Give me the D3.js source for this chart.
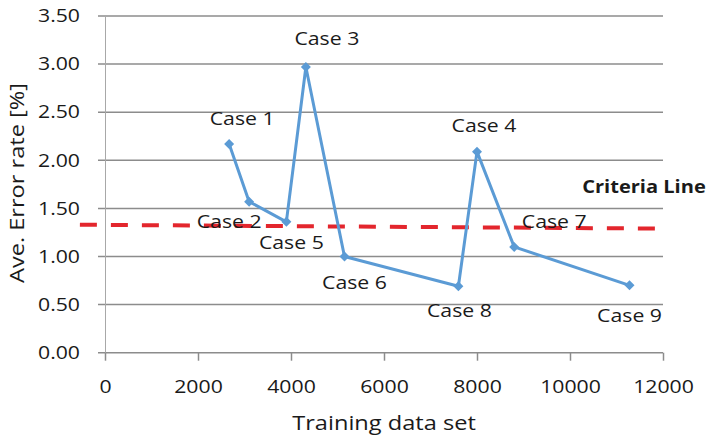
<!DOCTYPE html>
<html>
<head>
<meta charset="utf-8">
<script src="https://cdn.jsdelivr.net/npm/d3@7"></script>
<style>
  body { margin: 0; background: #fff; }
  text { font-family: "Open Sans", sans-serif; fill: #1a1a1a; }
</style>
</head>
<body>
<div id="chart"></div>
<script>
// data
var caseNames = ['Case 1', 'Case 2', 'Case 5', 'Case 3', 'Case 6', 'Case 8', 'Case 4', 'Case 7', 'Case 9'];
var trainingSize = [2670, 3100, 3900, 4320, 5150, 7600, 8000, 8800, 11280];
var errorRate = [2.17, 1.57, 1.36, 2.97, 1.00, 0.69, 2.09, 1.10, 0.70];

var xTicks = [0, 2000, 4000, 6000, 8000, 10000, 12000];
var yTicks = [0, 0.5, 1, 1.5, 2, 2.5, 3, 3.5];

var criteriaX = [-540, 12000];
var criteriaY = [1.33, 1.29];

// where each case label sits relative to its point (px)
var labelOffsets = [[13, -25], [-20, 20], [5, 21], [21, -28], [10, 26], [1, 24], [7, -26], [40, -25], [0, 30]];

var W = 710, H = 435;
var STRETCH = 1.18; // the original text is a bit wide

var svg = d3.select('#chart').append('svg').attr('width', W).attr('height', H);

var x = d3.scaleLinear().domain([0, 12000]).range([105, 663]);
var y = d3.scaleLinear().domain([0, 3.5]).range([352.7, 16]);

// gridlines, poking out a little left of the axis
svg.append('g').selectAll('line').data(yTicks).join('line')
    .attr('x1', x(0) - 7).attr('x2', x(12000))
    .attr('y1', function(d) { return y(d); }).attr('y2', function(d) { return y(d); })
    .attr('stroke', '#8c8c8c').attr('stroke-width', 1.5);

// y axis
var yAxis = svg.append('g').attr('transform', 'translate(' + x(0) + ',0)')
    .call(d3.axisLeft(y).tickValues(yTicks).tickFormat(d3.format('.2f')).tickSize(0).tickPadding(25));
yAxis.select('.domain').attr('stroke', '#a8a8a8').attr('stroke-width', 1);
yAxis.selectAll('text').attr('font-size', 18).attr('font-family', null).style('fill', '#1a1a1a')
    .attr('transform', 'scale(' + STRETCH + ',1)')
    .attr('x', -25 / STRETCH);

// x axis
var xAxis = svg.append('g').attr('transform', 'translate(0,' + y(0) + ')')
    .call(d3.axisBottom(x).tickValues(xTicks).tickFormat(d3.format('d')).tickSizeInner(8).tickSizeOuter(0).tickPadding(20));
xAxis.select('.domain').remove();
xAxis.selectAll('line').attr('stroke', '#8c8c8c').attr('stroke-width', 1.5);
xAxis.selectAll('text').attr('font-size', 18).attr('font-family', null).style('fill', '#1a1a1a')
    .attr('transform', 'scale(' + STRETCH + ',1)');

// axis titles
drawText('Training data set', 384, 423, 20, 'normal', 0);
drawText('Ave. Error rate [%]', 17, 183, 20, 'normal', -90);

// criteria line
svg.append('line')
    .attr('x1', x(criteriaX[0])).attr('y1', y(criteriaY[0]))
    .attr('x2', x(criteriaX[1])).attr('y2', y(criteriaY[1]))
    .attr('stroke', '#e3262d').attr('stroke-width', 4)
    .attr('stroke-dasharray', '17,14');
drawText('Criteria Line', 644, 187, 17, 'bold', 0);

// series
var pts = trainingSize.map(function(d, i) { return [d, errorRate[i]]; });
var line = d3.line().x(function(d) { return x(d[0]); }).y(function(d) { return y(d[1]); });

svg.append('path').datum(pts)
    .attr('d', line)
    .attr('fill', 'none')
    .attr('stroke', '#5b9bd5')
    .attr('stroke-width', 3)
    .attr('stroke-linejoin', 'round');

// diamond markers (rotated squares)
svg.append('g').selectAll('path').data(pts).join('path')
    .attr('d', d3.symbol().type(d3.symbolSquare).size(50))
    .attr('transform', function(d) { return 'translate(' + x(d[0]) + ',' + y(d[1]) + ') rotate(45)'; })
    .attr('fill', '#5b9bd5');

// case labels
pts.forEach(function(d, i) {
    drawText(caseNames[i], x(d[0]) + labelOffsets[i][0], y(d[1]) + labelOffsets[i][1], 18, 'normal', 0);
});

function drawText(txt, cx, cy, size, weight, rot) {
    svg.append('text')
        .attr('transform', 'translate(' + cx + ',' + cy + ') rotate(' + rot + ') scale(' + STRETCH + ',1)')
        .attr('text-anchor', 'middle')
        .attr('dy', '.35em')
        .attr('font-size', size)
        .attr('font-weight', weight)
        .text(txt);
}
</script>
</body>
</html>
